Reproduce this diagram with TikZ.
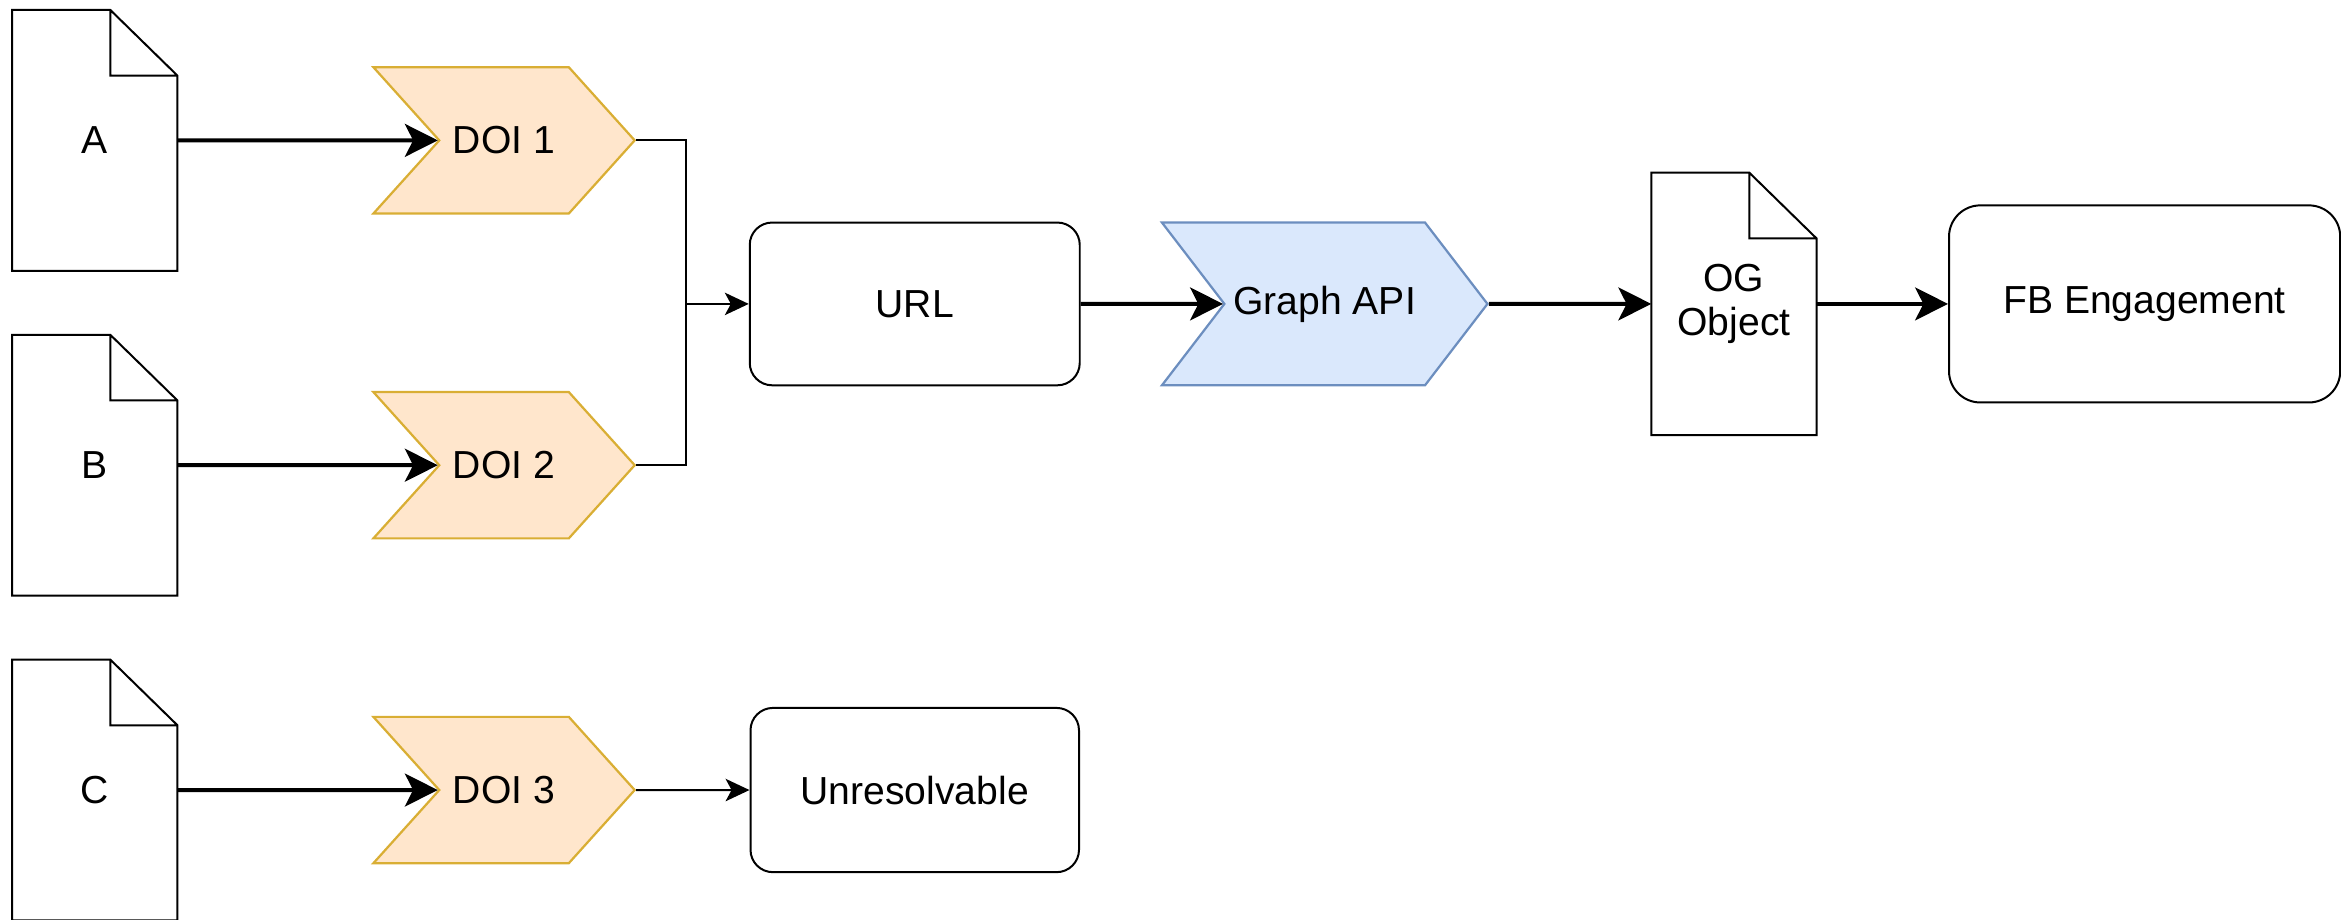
\documentclass[tikz,border=0pt]{standalone}
\usepackage{fontspec}
\setmainfont{Liberation Sans}
\usetikzlibrary{shapes.symbols,arrows.meta}
\definecolor{doifill}{HTML}{FFE6CC}
\definecolor{doiline}{HTML}{D9AE34}
\definecolor{apifill}{HTML}{DAE8FC}
\definecolor{apiline}{HTML}{6C8EBF}

\begin{document}
\begin{tikzpicture}[x=0.02cm, y=0.02cm, font=\fontsize{14.9}{16.8}\selectfont,
  doc/.style={rectangle, inner sep=0pt, minimum width=2.2cm, minimum height=3.48cm},
  chevron/.style={signal, signal from=west, signal to=east, inner sep=0pt, line width=0.85pt},
  rbox/.style={draw, rectangle, rounded corners=0.3cm, line width=0.76pt, inner sep=0pt},
  thinarrow/.style={line width=0.76pt, -{Stealth[length=0.32cm,width=0.3cm,inset=0.08cm]}},
  thickarrow/.style={line width=1.52pt, -{Stealth[length=0.44cm,width=0.44cm,inset=0.11cm]}}]

\useasboundingbox (0,0) rectangle (1567.5,616);

% Source documents
\foreach \n/\y in {A/522,B/304.5,C/87}
    \node[doc] (doc\n) at (63.5,\y) {\n};
\node[doc, align=center, minimum height=3.5cm] (og) at (1161,412.5) {OG\\Object};

% Folded-corner outlines
\foreach \d in {docA,docB,docC,og}
    \draw[line width=0.76pt] (\d.south west) -- (\d.north west) -- ([xshift=-0.9cm]\d.north east)
        -- ([yshift=-0.88cm]\d.north east) -- (\d.south east) -- cycle
        ([xshift=-0.9cm]\d.north east) |- ([yshift=-0.88cm]\d.north east);

% === DOI steps ===
\foreach \i/\y in {1/522,2/304.5,3/87}
    \node[chevron, fill=doifill, draw=doiline, minimum width=3.5cm, minimum height=1.96cm,
          signal pointer angle=96] (doi\i) at (337.5,\y) {DOI \i};

% === Resolution chain ===
\node[rbox, minimum width=4.42cm, minimum height=2.18cm] (url) at (612.5,412.5) {URL};
\node[chevron, fill=apifill, draw=apiline, minimum width=4.36cm, minimum height=2.18cm,
      signal pointer angle=105] (graph) at (887,412.5) {Graph API};
\node[rbox, rounded corners=0.42cm, minimum width=5.24cm, minimum height=2.64cm] (fb) at (1436,412.5) {FB Engagement};
\node[rbox, minimum width=4.4cm, minimum height=2.2cm] (unres) at (612.5,87) {Unresolvable};

\coordinate (junc) at (459,412.5);

% Connectors
\foreach \n/\i in {A/1,B/2,C/3}
    \draw[thickarrow] (doc\n) -- (doi\i);
\draw[line width=0.76pt] (doi1.east) -| (junc) |- (doi2.east);
\draw[thinarrow] (junc) -- (url);
\draw[thinarrow] (doi3) -- (unres);
\draw[thickarrow] (url) -- (graph);
\draw[thickarrow] (graph) -- (og);
\draw[thickarrow] (og) -- (fb);

\end{tikzpicture}
\end{document}
